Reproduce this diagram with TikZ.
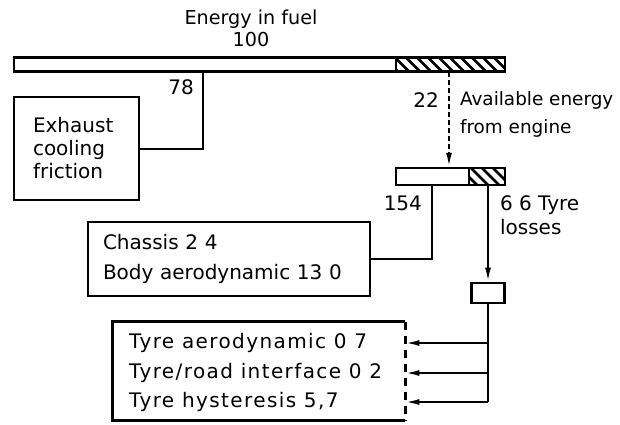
\documentclass[tikz,border=0pt]{standalone}
\usepackage{fontspec}
\setmainfont{DejaVu Sans}
\newfontfamily\spacedfont[LetterSpace=7]{DejaVu Sans}
\usetikzlibrary{arrows.meta}

\begin{document}
\begin{tikzpicture}[x=0.5pt,y=-0.5pt,
        font=\fontsize{10}{12}\selectfont,
        bar/.style={draw,line width=1.2pt,fill=white,inner sep=0pt},
        box/.style={draw,line width=1.4pt,inner sep=0pt,align=left},
        link/.style={line width=1pt},
        flow/.style={line width=1pt,-{Latex[length=7pt,width=3pt]}},
        hatch/.style={line width=1.3pt},
        tyreline/.style={anchor=west,font=\spacedfont\fontsize{10}{12}\selectfont}]
            \useasboundingbox (0,0) rectangle (620,424);
            % energy in fuel
            \node (title) at (251,28) [align=center,font=\fontsize{9.6}{11}\selectfont] {Energy in fuel\\100};
            \node (fuel) at (259.5,64.5) [bar,minimum width=245.5pt,minimum height=7pt] {};
            \begin{scope}
                \clip (396,57.5) rectangle (505,71.5);
                \foreach \x in {384,395,...,510}
                    \draw[hatch] (\x,57.5) -- ++(14,14);
            \end{scope}
            \draw[line width=1.2pt] (396,57.5) -- (396,71.5);
            % losses in the engine
            \node (exhaust) at (76.5,148.5) [box,minimum width=62.5pt,minimum height=51.5pt,
                  inner xsep=9.5pt,text width=43.5pt,
                  font=\fontsize{10}{11.5}\selectfont] {Exhaust\\cooling\\friction};
            \coordinate (tap78) at (203,71.5);
            \draw[link] (tap78) |- (exhaust.east);
            \node (n78) [anchor=east] at (201,87) {78};
            % available energy
            \node (axle) at (450.5,176.5) [bar,minimum width=54.5pt,minimum height=8.5pt] {};
            \begin{scope}
                \clip (469,168) rectangle (505,185);
                \foreach \x in {460,471,...,510}
                    \draw[hatch] (\x,168) -- ++(17,17);
            \end{scope}
            \draw[line width=1.2pt] (469,168) -- (469,185);
            \coordinate (tap22) at (449,71.5);
            \draw[flow,dash pattern=on 2.5pt off 1.5pt] (tap22) -- (tap22 |- axle.north);
            \node (n22) [anchor=east] at (446,100) {22};
            \node (avail) [anchor=west,align=left,font=\fontsize{9.2}{14}\selectfont]
                  at (453,114) {Available energy\\from engine};
            % chassis
            \node (chassis) at (229,259) [box,minimum width=141pt,minimum height=37pt,
                  inner xsep=7.5pt,text width=126pt,
                  font=\fontsize{10}{15}\selectfont] {Chassis 2 4\\Body aerodynamic 13 0};
            \coordinate (tap154) at (432,185);
            \draw[link] (tap154) |- (chassis.east);
            \node (n154) [anchor=east] at (429,203) {154};
            % tyres
            \node (tyres) at (488,293) [box,minimum width=16.5pt,minimum height=10pt] {};
            \coordinate (tap66) at (488,185);
            \draw[flow] (tap66) -- (tyres.north);
            \node (n66) [anchor=west,align=left,font=\fontsize{10}{12}\selectfont]
                  at (493,215) {6 6 Tyre\\losses};
            \node (tyre) at (259,371) [minimum width=146pt,minimum height=49pt,inner sep=0pt] {};
            \draw[line width=1.4pt] (tyre.north east) -- (tyre.north west)
                  -- (tyre.south west) -- (tyre.south east);
            \draw[line width=1.4pt,dash pattern=on 4pt off 3pt] (tyre.north east) -- (tyre.south east);
            \node (aero) [tyreline] at (122,343) {Tyre aerodynamic 0 7};
            \node (road) [tyreline] at (122,373) {Tyre/road interface 0 2};
            \node (hyst) [tyreline] at (122,402) {Tyre hysteresis 5,7};
            \draw[link] (tyres.south) -- (tyres.south |- hyst);
            \foreach \t in {aero,road,hyst}
                \draw[flow] (tyres.south |- \t) -- (tyre.east |- \t);
        \end{tikzpicture}
\end{document}
